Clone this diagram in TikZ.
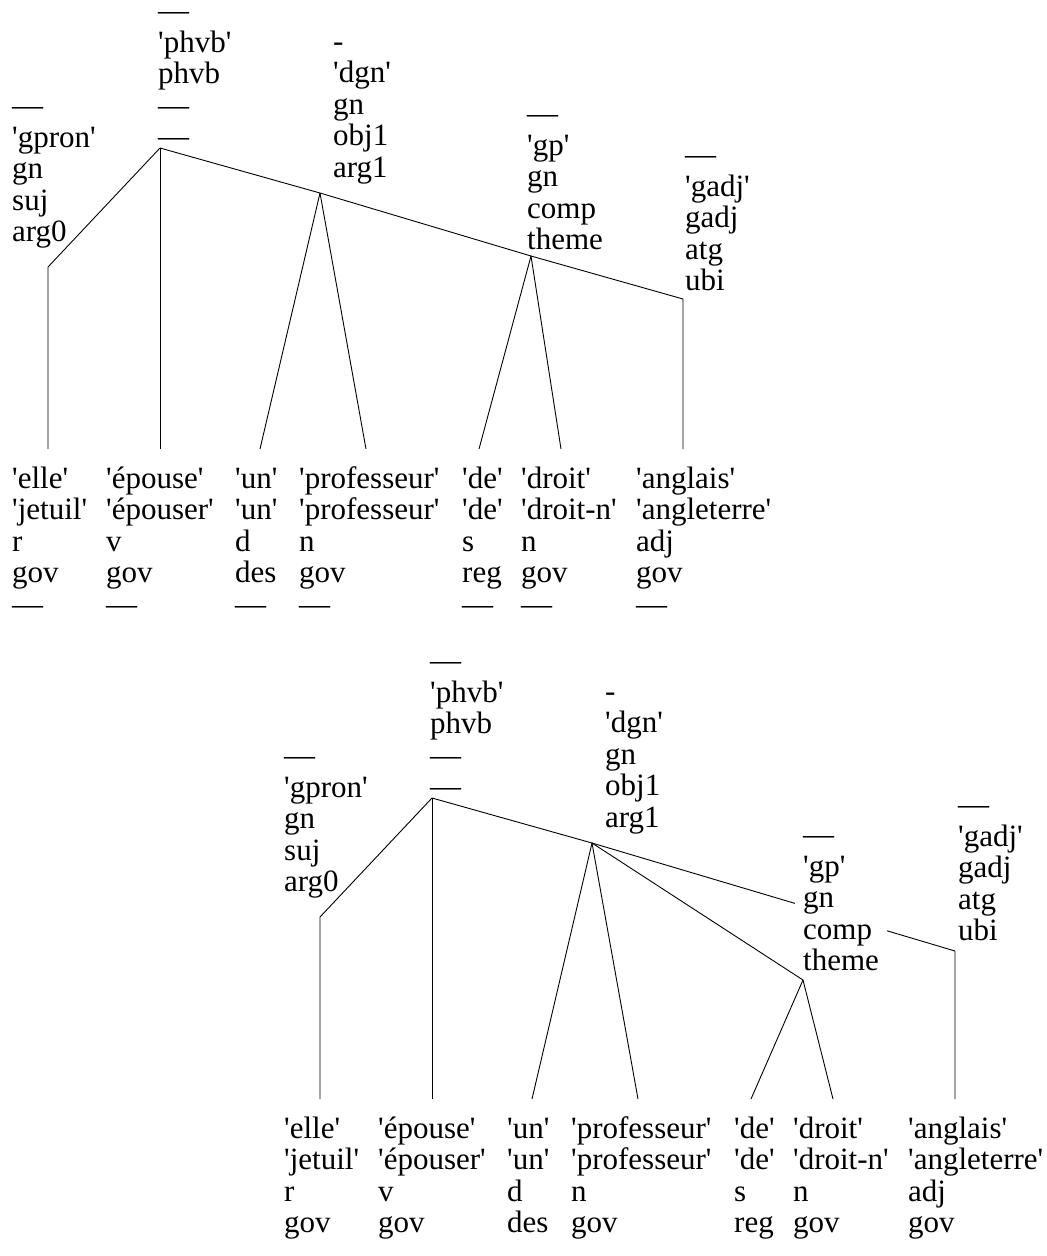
\documentclass[tikz,border=0pt]{standalone}
\usepackage{fontspec}
\setmainfont{Liberation Serif}[Ligatures=TeXOff]
\newcommand\lbls[1]{\vtop{\baselineskip=31.5pt\lineskiplimit=-100pt\lineskip=0pt\halign{##\hfil\cr#1\crcr}}}
\begin{document}
\begin{tikzpicture}[x=1pt,y=-1pt,
  lbl/.style={anchor=base west,inner sep=0pt,font=\fontsize{31}{31.5}\selectfont},
  hidelbl/.style={lbl,fill=white,inner xsep=8pt,inner ysep=0pt},
  edge/.style={line width=0.9pt,black}]
\useasboundingbox (0,0) rectangle (1047,1256);
% ---------- top tree: attach points ----------
\coordinate (r1) at (160,148);
\coordinate (gpronA1) at (48,267);
\coordinate (dgnA1) at (320,193);
\coordinate (gpA1) at (531,256);
\coordinate (gadjA1) at (683,299);
\coordinate (elle1) at (48,449);
\coordinate (epouse1) at (160,449);
\coordinate (un1) at (260,449);
\coordinate (prof1) at (366,449);
\coordinate (de1) at (479,449);
\coordinate (droit1) at (561,449);
\coordinate (anglais1) at (683,449);
% ---------- bottom tree: attach points ----------
\coordinate (r2) at (432,798);
\coordinate (gpronA2) at (320,917);
\coordinate (dgnA2) at (592,843);
\coordinate (gpA2) at (803,980);
\coordinate (gadjA2) at (955,951);
\coordinate (elle2) at (320,1099);
\coordinate (epouse2) at (432,1099);
\coordinate (un2) at (532,1099);
\coordinate (prof2) at (638,1099);
\coordinate (de2) at (751,1099);
\coordinate (droit2) at (833,1099);
\coordinate (anglais2) at (955,1099);
% ---------- edges top ----------
\draw[edge] (r1) -- (gpronA1) -- (elle1);
\draw[edge] (r1) -- (epouse1);
\draw[edge] (r1) -- (dgnA1);
\draw[edge] (dgnA1) -- (un1);
\draw[edge] (dgnA1) -- (prof1);
\draw[edge] (dgnA1) -- (gpA1);
\draw[edge] (gpA1) -- (de1);
\draw[edge] (gpA1) -- (droit1);
\draw[edge] (gpA1) -- (gadjA1) -- (anglais1);
% ---------- edges bottom ----------
\draw[edge] (r2) -- (gpronA2) -- (elle2);
\draw[edge] (r2) -- (epouse2);
\draw[edge] (r2) -- (dgnA2);
\draw[edge] (dgnA2) -- (un2);
\draw[edge] (dgnA2) -- (prof2);
\draw[edge] (dgnA2) -- (gpA2);
\draw[edge] (gpA2) -- (de2);
\draw[edge] (gpA2) -- (droit2);
\draw[edge] (dgnA2) -- (gadjA2) -- (anglais2);
% ---------- labels top ----------
\node[lbl] (Lgpron1) at (12,115.5) {\lbls{—\cr 'gpron'\cr gn\cr suj\cr arg0}};
\node[lbl] (Lphvb1) at (158,20.5) {\lbls{—\cr 'phvb'\cr phvb\cr —\cr —}};
\node[lbl] (Ldgn1) at (333,51) {\lbls{-\cr 'dgn'\cr gn\cr obj1\cr arg1}};
\node[lbl] (Lgp1) at (527,123.5) {\lbls{—\cr 'gp'\cr gn\cr comp\cr theme}};
\node[lbl] (Lgadj1) at (685,164.5) {\lbls{—\cr 'gadj'\cr gadj\cr atg\cr ubi}};
\node[lbl] (Welle1) at (12,488) {\lbls{'elle'\cr 'jetuil'\cr r\cr gov\cr —}};
\node[lbl] (Wepouse1) at (106,488) {\lbls{'épouse'\cr 'épouser'\cr v\cr gov\cr —}};
\node[lbl] (Wun1) at (235,488) {\lbls{'un'\cr 'un'\cr d\cr des\cr —}};
\node[lbl] (Wprof1) at (299,488) {\lbls{'professeur'\cr 'professeur'\cr n\cr gov\cr —}};
\node[lbl] (Wde1) at (462,488) {\lbls{'de'\cr 'de'\cr s\cr reg\cr —}};
\node[lbl] (Wdroit1) at (521,488) {\lbls{'droit'\cr 'droit-n'\cr n\cr gov\cr —}};
\node[lbl] (Wanglais1) at (636,488) {\lbls{'anglais'\cr 'angleterre'\cr adj\cr gov\cr —}};
% ---------- labels bottom ----------
\node[lbl] (Lgpron2) at (284,765.5) {\lbls{—\cr 'gpron'\cr gn\cr suj\cr arg0}};
\node[lbl] (Lphvb2) at (430,670.5) {\lbls{—\cr 'phvb'\cr phvb\cr —\cr —}};
\node[lbl] (Ldgn2) at (605,701) {\lbls{-\cr 'dgn'\cr gn\cr obj1\cr arg1}};
\node[hidelbl] (Lgp2) at (795,844.5) {\lbls{—\cr 'gp'\cr gn\cr comp\cr theme}};
\node[lbl] (Lgadj2) at (958,814.5) {\lbls{—\cr 'gadj'\cr gadj\cr atg\cr ubi}};
\node[lbl] (Welle2) at (284,1138) {\lbls{'elle'\cr 'jetuil'\cr r\cr gov}};
\node[lbl] (Wepouse2) at (378,1138) {\lbls{'épouse'\cr 'épouser'\cr v\cr gov}};
\node[lbl] (Wun2) at (507,1138) {\lbls{'un'\cr 'un'\cr d\cr des}};
\node[lbl] (Wprof2) at (571,1138) {\lbls{'professeur'\cr 'professeur'\cr n\cr gov}};
\node[lbl] (Wde2) at (734,1138) {\lbls{'de'\cr 'de'\cr s\cr reg}};
\node[lbl] (Wdroit2) at (793,1138) {\lbls{'droit'\cr 'droit-n'\cr n\cr gov}};
\node[lbl] (Wanglais2) at (908,1138) {\lbls{'anglais'\cr 'angleterre'\cr adj\cr gov}};
\end{tikzpicture}
\end{document}
